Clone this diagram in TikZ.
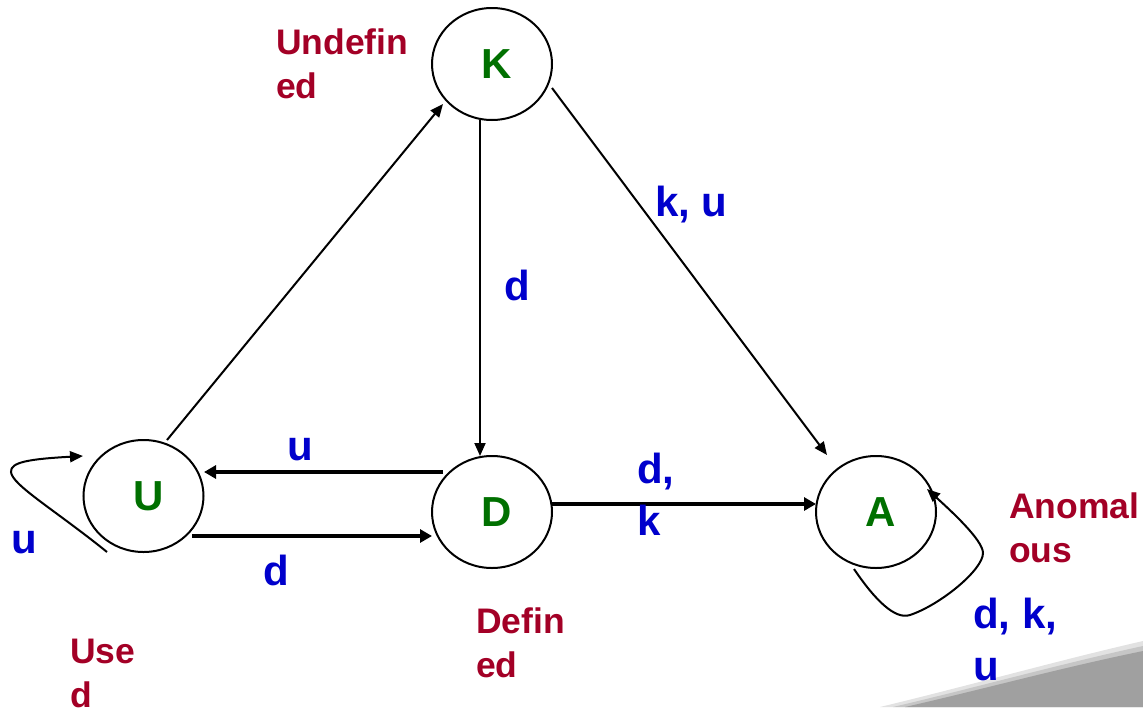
\documentclass[tikz,border=0pt]{standalone}
\usepackage{fontspec}
\setmainfont{Liberation Sans}
\usetikzlibrary{arrows.meta,shapes.geometric,calc}
\definecolor{lblred}{RGB}{163,0,38}
\definecolor{lblblue}{RGB}{0,0,204}
\definecolor{stgreen}{RGB}{0,112,0}
\definecolor{shadowgray}{RGB}{160,160,160}
\begin{document}
\begin{tikzpicture}[x=1pt,y=-1pt,
  state/.style={ellipse,draw,line width=2pt,minimum width=120pt,minimum height=112pt,inner sep=0pt,
    font=\fontsize{42}{50}\selectfont\bfseries,text=stgreen,execute at begin node={\hspace*{10pt}}},
  redlbl/.style={anchor=base west,inner sep=0pt,align=left,font=\fontsize{35.5}{44}\selectfont\bfseries,text=lblred},
  bluelbl/.style={anchor=base west,inner sep=0pt,align=left,font=\fontsize{42}{51.5}\selectfont\bfseries,text=lblblue},
  edge/.style={line width=2pt,-{Triangle[length=13pt,width=11pt]}},
  thickedge/.style={line width=3.4pt,-{Triangle[length=12pt,width=13pt]}}]
\useasboundingbox (0,0) rectangle (1143,707);
% page shadow
\fill[shadowgray!30] (880,707) .. controls (975,684) and (1060,660) .. (1143,641) -- (1143,707) -- cycle;
\fill[shadowgray!60] (893,707) .. controls (978,687) and (1060,664) .. (1143,646) -- (1143,707) -- cycle;
\fill[shadowgray] (905,707) .. controls (980,690) and (1060,668) .. (1143,651) -- (1143,707) -- cycle;
% states
\node[state] (K) at (492,64) {K};
\node[state] (U) at (143.5,496) {U};
\node[state] (D) at (492,512) {D};
\node[state] (A) at (876,512) {A};
% transitions
\draw[edge] ($(U.center)+(23.5,-56)$) -- ($(K.center)+(-49,40)$);
\draw[edge] ($(K.center)+(-12,56)$) -- ($(D.center)+(-12,-56)$);
\draw[edge] ($(K.center)+(60,24)$) -- ($(A.center)+(-49,-57)$);
\draw[thickedge] ($(D.center)+(-49,-40)$) -- ($(U.center)+(60.5,-24)$);
\draw[thickedge] ($(U.center)+(48.5,40)$) -- ($(D.center)+(-60,24)$);
\draw[thickedge] ($(D.center)+(60,-8)$) -- ($(A.center)+(-60,-8)$);
\begin{scope}[shift={(U.center)}]
\draw[edge] (-36.5,56) .. controls (-88.5,14) and (-131.5,-11) .. (-132.5,-24)
  .. controls (-133.5,-34) and (-113.5,-37) .. (-60.5,-40);
\end{scope}
\begin{scope}[shift={(A.center)}]
\draw[edge] (-22,57) .. controls (-1,88) and (19,108) .. (34,103)
  .. controls (64,93) and (107,58) .. (107,41)
  .. controls (107,28) and (74,-2) .. (51,-23);
\end{scope}
% state names (base = baseline of the last line)
\node[redlbl] (lblK) at (276,98) {Undefin\\ed};
\node[redlbl] (lblD) at (476,677) {Defin\\ed};
\node[redlbl] (lblU) at (70,707) {Use\\d};
\node[redlbl] (lblA) at (1009,562) {Anomal\\ous};
% transition labels
\node[bluelbl] (lUU) at (11,553) {u};
\node[bluelbl] (lDU) at (287,460) {u};
\node[bluelbl] (lUD) at (263,585) {d};
\node[bluelbl] (lDA) at (637,535) {d,\\k};
\node[bluelbl] (lKA) at (655,216) {k, u};
\node[bluelbl] (lKD) at (504,300) {d};
\node[bluelbl] (lAA) at (973,680) {d, k,\\u};
\end{tikzpicture}
\end{document}
